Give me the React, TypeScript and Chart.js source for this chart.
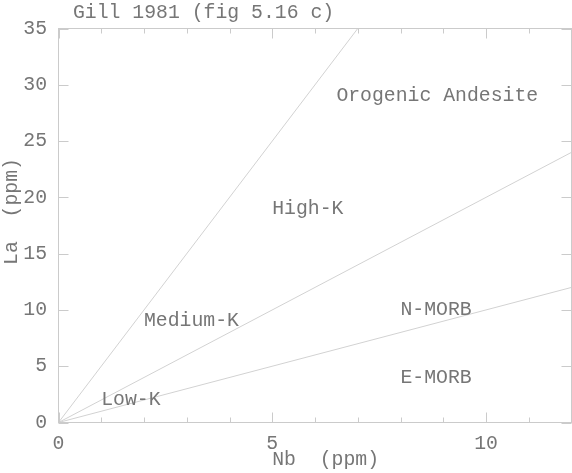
import { useEffect, useRef } from "react";
import { Chart, registerables } from "chart.js";

Chart.register(...registerables);

// ---- data ----
const xTickLabels = [0, 5, 10];
const yTickLabels = [0, 5, 10, 15, 20, 25, 30, 35];
const xTickMarks = [0, 1, 2, 3, 4, 5, 6, 7, 8, 9, 10, 11, 12];
const boundaryEndX = [7, 12, 12];
const boundaryEndY = [35, 24, 12];
const regionNames = ["Orogenic Andesite", "High-K", "Medium-K", "Low-K", "N-MORB", "E-MORB"];
const regionX = [6.5, 5, 2, 1, 8, 8];
const regionY = [29, 19, 9, 2, 10, 4];
const chartTitle = "Gill 1981 (fig 5.16 c)";
const xAxisTitle = "Nb  (ppm)";
const yAxisTitle = "La  (ppm)";

const FONT = '19.8px "Liberation Mono", "Courier New", monospace';
const TEXT_COLOR = "#767676";
const LINE_COLOR = "#d2d2d2";
const FRAME_COLOR = "#cbcbcb";

const decorPlugin = {
  id: "decor",
  afterDraw(chart: any) {
    const { ctx, chartArea: a, scales } = chart;
    const xs = scales.x;
    const ys = scales.y;
    ctx.save();
    // frame
    ctx.strokeStyle = FRAME_COLOR;
    ctx.lineWidth = 1;
    ctx.strokeRect(a.left, a.top, a.right - a.left, a.bottom - a.top);
    // x ticks (bottom and top, inward)
    ctx.beginPath();
    xTickMarks.forEach((v) => {
      const px = Math.round(xs.getPixelForValue(v)) + 0.5;
      const len = xTickLabels.includes(v) ? 10 : 5;
      ctx.moveTo(px, a.bottom);
      ctx.lineTo(px, a.bottom - len);
      ctx.moveTo(px, a.top);
      ctx.lineTo(px, a.top + len);
    });
    // y ticks (left and right, inward)
    yTickLabels.forEach((v) => {
      const py = Math.round(ys.getPixelForValue(v)) + 0.5;
      ctx.moveTo(a.left, py);
      ctx.lineTo(a.left + 10, py);
      ctx.moveTo(a.right, py);
      ctx.lineTo(a.right - 10, py);
    });
    ctx.stroke();

    ctx.fillStyle = TEXT_COLOR;
    ctx.font = FONT;
    // x tick labels
    ctx.textAlign = "center";
    ctx.textBaseline = "middle";
    xTickLabels.forEach((v) => {
      ctx.fillText(String(v), xs.getPixelForValue(v), a.bottom + 21.5);
    });
    // y tick labels
    ctx.textAlign = "right";
    yTickLabels.forEach((v) => {
      ctx.fillText(String(v), a.left - 11.5, ys.getPixelForValue(v));
    });
    // region labels
    ctx.textAlign = "left";
    regionNames.forEach((name, i) => {
      ctx.fillText(name, xs.getPixelForValue(regionX[i]), ys.getPixelForValue(regionY[i]));
    });
    // title
    ctx.fillText(chartTitle, a.left + 14.5, 12.5);
    // x axis title
    ctx.fillText(xAxisTitle, xs.getPixelForValue(5), a.bottom + 37);
    // y axis title (rotated)
    ctx.translate(11.5, ys.getPixelForValue(14));
    ctx.rotate(-Math.PI / 2);
    ctx.fillText(yAxisTitle, 0, 0);
    ctx.restore();
  },
};

export default function App() {
  const ref = useRef<HTMLCanvasElement | null>(null);
  useEffect(() => {
    if (!ref.current) return;
    const datasets = boundaryEndX.map((ex, i) => ({
      label: "boundary " + (i + 1),
      data: [
        { x: 0, y: 0 },
        { x: ex, y: boundaryEndY[i] },
      ],
      showLine: true,
      borderColor: LINE_COLOR,
      borderWidth: 1,
      pointRadius: 0,
      fill: false,
    }));
    const chart = new Chart(ref.current, {
      type: "scatter",
      data: { datasets },
      options: {
        responsive: false,
        animation: false,
        devicePixelRatio: 1,
        layout: { padding: { left: 58.5, right: 0.5, top: 28.5, bottom: 50.5 } },
        plugins: { legend: { display: false }, tooltip: { enabled: false }, title: { display: false } },
        scales: {
          x: { type: "linear", min: 0, max: 12, display: false },
          y: { type: "linear", min: 0, max: 35, display: false },
        },
      },
      plugins: [decorPlugin],
    });
    return () => chart.destroy();
  }, []);
  return (
    <div style={{ position: "fixed", left: 0, top: 0, width: 572, height: 473, background: "#fff" }}>
      <canvas ref={ref} width={572} height={473} style={{ display: "block" }} />
    </div>
  );
}
